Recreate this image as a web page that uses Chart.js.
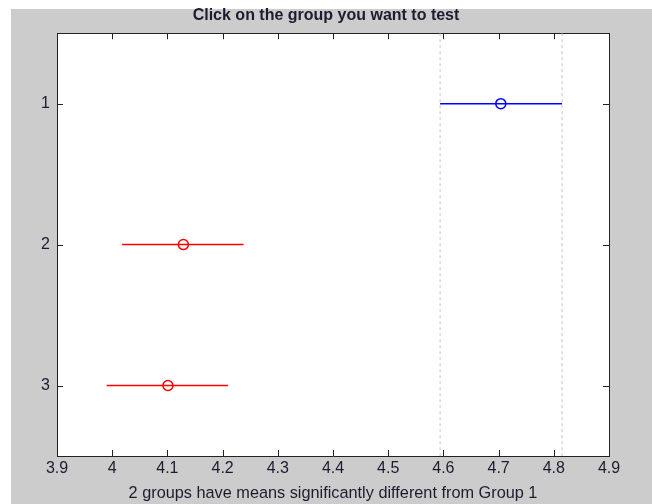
<!DOCTYPE html>
<html>
<head>
<meta charset="utf-8">
<script src="https://cdn.jsdelivr.net/npm/chart.js@4"></script>
<style>
  html, body { margin: 0; padding: 0; background: #ffffff; }
  canvas { display: block; }
</style>
</head>
<body>
<canvas id="c" width="652" height="504"></canvas>
<script>
// ---- data ----
const groups = [1, 2, 3];
const groupColors = ['#0000ff', '#ff0000', '#ff0000'];
const means = [4.704, 4.129, 4.101];
const lower = [4.594, 4.018, 3.990];
const upper = [4.815, 4.238, 4.210];
const xTicks = [3.9, 4.0, 4.1, 4.2, 4.3, 4.4, 4.5, 4.6, 4.7, 4.8, 4.9];
const yTicks = [1, 2, 3];
const titleText = 'Click on the group you want to test';
const xLabelText = '2 groups have means significantly different from Group 1';

const FONT = "'Liberation Sans', Arial, sans-serif";
const TEXT = '#1c1c30';

const datasets = [];
// reference (dashed) lines at the interval of group 1
[lower[0], upper[0]].forEach(v => {
  datasets.push({
    data: [{x: v, y: 0.5}, {x: v, y: 3.5}],
    borderColor: '#c4c4c4', borderWidth: 1, borderDash: [3, 3],
    pointRadius: 0, showLine: true, xAxisID: 'x', yAxisID: 'y'
  });
});
groups.forEach((g, i) => {
  datasets.push({
    data: [{x: lower[i], y: g}, {x: means[i], y: g}, {x: upper[i], y: g}],
    borderColor: groupColors[i], borderWidth: 1.5, showLine: true,
    pointRadius: ctx => ctx.dataIndex === 1 ? 5 : 0,
    pointBorderWidth: 1.5,
    pointBorderColor: groupColors[i],
    pointBackgroundColor: 'rgba(0,0,0,0)',
    xAxisID: 'x', yAxisID: 'y'
  });
});

const bgPlugin = {
  id: 'bg',
  beforeDraw(chart) {
    const {ctx, chartArea: a} = chart;
    ctx.save();
    ctx.fillStyle = '#ffffff';
    ctx.fillRect(0, 0, chart.width, chart.height);
    ctx.fillStyle = '#cccccc';
    ctx.fillRect(11, 9, chart.width - 11, chart.height - 9);
    ctx.fillStyle = '#ffffff';
    ctx.fillRect(a.left, a.top, a.right - a.left, a.bottom - a.top);
    ctx.restore();
  }
};

const tickPlugin = {
  id: 'innerTicks',
  afterDatasetsDraw(chart) {
    const {ctx, chartArea: a, scales} = chart;
    const L = 6;
    ctx.save();
    ctx.strokeStyle = '#222222';
    ctx.lineWidth = 1;
    ctx.beginPath();
    xTicks.forEach(v => {
      const px = Math.round(scales.x.getPixelForValue(v)) + 0.5;
      ctx.moveTo(px, a.bottom); ctx.lineTo(px, a.bottom - L);
      ctx.moveTo(px, a.top); ctx.lineTo(px, a.top + L);
    });
    yTicks.forEach(v => {
      const py = Math.round(scales.y.getPixelForValue(v)) + 0.5;
      ctx.moveTo(a.left, py); ctx.lineTo(a.left + L, py);
      ctx.moveTo(a.right, py); ctx.lineTo(a.right - L, py);
    });
    ctx.stroke();
    ctx.restore();
  }
};

new Chart(document.getElementById('c'), {
  type: 'scatter',
  data: { datasets },
  plugins: [bgPlugin, tickPlugin],
  options: {
    responsive: false,
    animation: false,
    devicePixelRatio: 1,
    layout: { padding: 0 },
    plugins: {
      legend: { display: false },
      tooltip: { enabled: false },
      title: {
        display: true, text: titleText, color: TEXT,
        font: { family: FONT, size: 16, weight: 'bold' },
        padding: { top: 6, bottom: 8 }
      }
    },
    scales: {
      x: {
        type: 'linear', position: 'bottom', min: 3.9, max: 4.9,
        afterBuildTicks: s => { s.ticks = xTicks.map(v => ({value: v})); },
        afterFit: s => { s.height = 48; },
        ticks: {
          color: TEXT, font: { family: FONT, size: 16 }, padding: 3,
          maxRotation: 0, autoSkip: false,
          callback: v => String(Math.round(v * 10) / 10)
        },
        grid: { drawOnChartArea: false, drawTicks: false },
        border: { display: true, color: '#222222', width: 1 },
        title: {
          display: true, text: xLabelText, color: TEXT,
          font: { family: FONT, size: 16.3 }, padding: { top: 0, bottom: 1 }
        }
      },
      x2: {
        type: 'linear', position: 'top', min: 3.9, max: 4.9,
        afterFit: s => { s.height = 0; },
        ticks: { display: false },
        grid: { drawOnChartArea: false, drawTicks: false },
        border: { display: true, color: '#222222', width: 1 }
      },
      y: {
        type: 'linear', position: 'left', min: 0.5, max: 3.5, reverse: true,
        afterBuildTicks: s => { s.ticks = yTicks.map(v => ({value: v})); },
        afterFit: s => { s.width = 57; },
        ticks: {
          color: TEXT, font: { family: FONT, size: 16 }, padding: 7,
          callback: v => String(v)
        },
        grid: { drawOnChartArea: false, drawTicks: false },
        border: { display: true, color: '#222222', width: 1 }
      },
      y2: {
        type: 'linear', position: 'right', min: 0.5, max: 3.5, reverse: true,
        afterFit: s => { s.width = 43; },
        ticks: { display: false },
        grid: { drawOnChartArea: false, drawTicks: false },
        border: { display: true, color: '#222222', width: 1 }
      }
    }
  }
});
</script>
</body>
</html>
